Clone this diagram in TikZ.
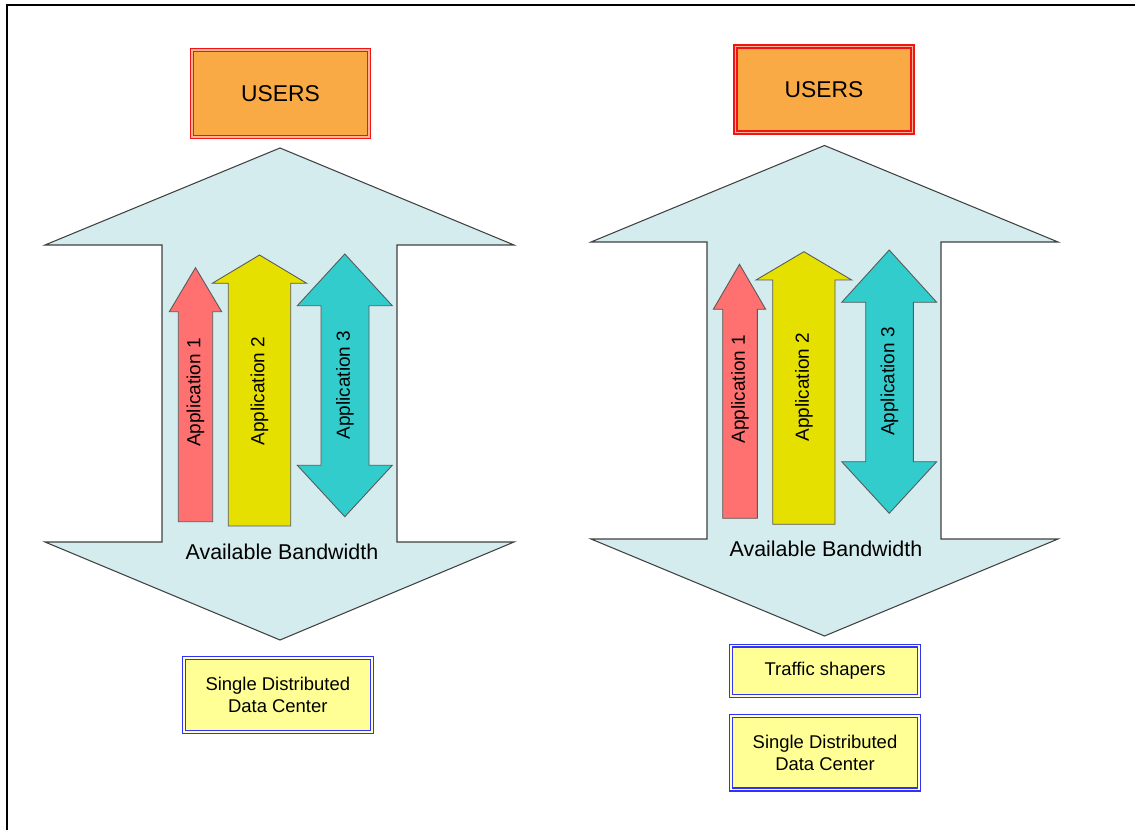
\documentclass[tikz,border=0pt]{standalone}
\usepackage{fontspec}
\setmainfont{Liberation Sans}
\usetikzlibrary{positioning}

\definecolor{bwfill}{RGB}{212,236,238}
\definecolor{usrfill}{RGB}{250,170,68}
\definecolor{usrline}{RGB}{240,20,20}
\definecolor{dcfill}{RGB}{255,255,150}
\definecolor{dcline}{RGB}{50,50,245}
\definecolor{appone}{RGB}{255,112,112}
\definecolor{apptwo}{RGB}{230,224,0}
\definecolor{appthree}{RGB}{50,204,204}

\begin{document}
\begin{tikzpicture}[
  x=0.02cm, y=-0.02cm,
  users/.style={draw=usrline, double=usrfill!60!red!50, double distance=0.9pt, line width=0.75pt, fill=usrfill, align=center, font=\fontsize{13}{15}\selectfont},
  dc/.style={draw=dcline, double=dcfill!50, double distance=0.9pt, line width=0.75pt, fill=dcfill, align=center, font=\fontsize{10.5}{12.5}\selectfont},
  band/.style={draw=black!75, line width=0.6pt, fill=bwfill},
  app/.style={draw=black!65, line width=0.5pt},
  applbl/.style={rotate=90, font=\fontsize{10.8}{13}\selectfont, inner sep=0pt},
  bwlbl/.style={font=\fontsize{12.2}{14}\selectfont, inner sep=0pt}
]
\useasboundingbox (0,0) rectangle (1135,830);
% --- page frame ---
\draw[line width=0.85pt] (7,830) -- (7,5) -- (1135,5);

% --- left: without shaping ---
\node[users, minimum width=3.54cm, minimum height=1.74cm] (usersL) at (280.5,93.5) {USERS};
\draw[band] (280,148) -- (514,245) -- (397,245) -- (397,542) -- (514,542) -- (280,640)
  -- (45,542) -- (162,542) -- (162,245) -- (45,245) -- cycle;
\draw[app, fill=appone] (195.5,267.7) -- (221.7,311.7) -- (212.7,311.7) -- (212.7,521.7)
  -- (178.3,521.7) -- (178.3,311.7) -- (169.3,311.7) -- cycle;
\draw[app, fill=apptwo] (259.5,255) -- (306.7,283.3) -- (290.7,283.3) -- (290.7,526)
  -- (228.3,526) -- (228.3,283.3) -- (212.3,283.3) -- cycle;
\draw[app, fill=appthree] (344.8,254) -- (392.3,305.7) -- (369,305.7) -- (369,465.3) -- (392.3,465.3)
  -- (344.8,516.7) -- (297.3,465.3) -- (321,465.3) -- (321,305.7) -- (297.3,305.7) -- cycle;
\node[applbl] (app1L) at (195.5,392.5) {Application 1};
\node[applbl] (app2L) at (259.5,391) {Application 2};
\node[applbl] (app3L) at (345,385) {Application 3};
\node[bwlbl] (bwL) at (282,552) {Available Bandwidth};
\node[dc, minimum width=3.76cm, minimum height=1.48cm] (dcL) at (277.8,694.8) {Single Distributed\\Data Center};

% --- right: with traffic shapers ---
\node[users, minimum width=3.54cm, minimum height=1.72cm] (usersR) at (824,89.5) {USERS};
\draw[band] (824.5,145.5) -- (1058,242) -- (941,242) -- (941,539) -- (1058,539) -- (824.5,636)
  -- (591,539) -- (707,539) -- (707,242) -- (591,242) -- cycle;
\draw[app, fill=appone] (739.5,264.3) -- (765.7,309.3) -- (757.3,309.3) -- (757.3,518.3)
  -- (722.7,518.3) -- (722.7,309.3) -- (713.3,309.3) -- cycle;
\draw[app, fill=apptwo] (803.9,251.7) -- (851.7,280) -- (835,280) -- (835,524.3)
  -- (772.7,524.3) -- (772.7,280) -- (756,280) -- cycle;
\draw[app, fill=appthree] (889.2,250) -- (936.7,302.3) -- (913.3,302.3) -- (913.3,461.7) -- (936.7,461.7)
  -- (889.2,513.3) -- (841.7,461.7) -- (865.7,461.7) -- (865.7,302.3) -- (841.7,302.3) -- cycle;
\node[applbl] (app1R) at (740,389) {Application 1};
\node[applbl] (app2R) at (804,387) {Application 2};
\node[applbl] (app3R) at (889.5,381.5) {Application 3};
\node[bwlbl] (bwR) at (826,549) {Available Bandwidth};
\node[dc, minimum width=3.75cm, minimum height=1.01cm] (shaper) at (825,670.9) {Traffic shapers};
\node[dc, minimum width=3.75cm, minimum height=1.47cm] (dcR) at (825,752.7) {Single Distributed\\Data Center};
\end{tikzpicture}
\end{document}
